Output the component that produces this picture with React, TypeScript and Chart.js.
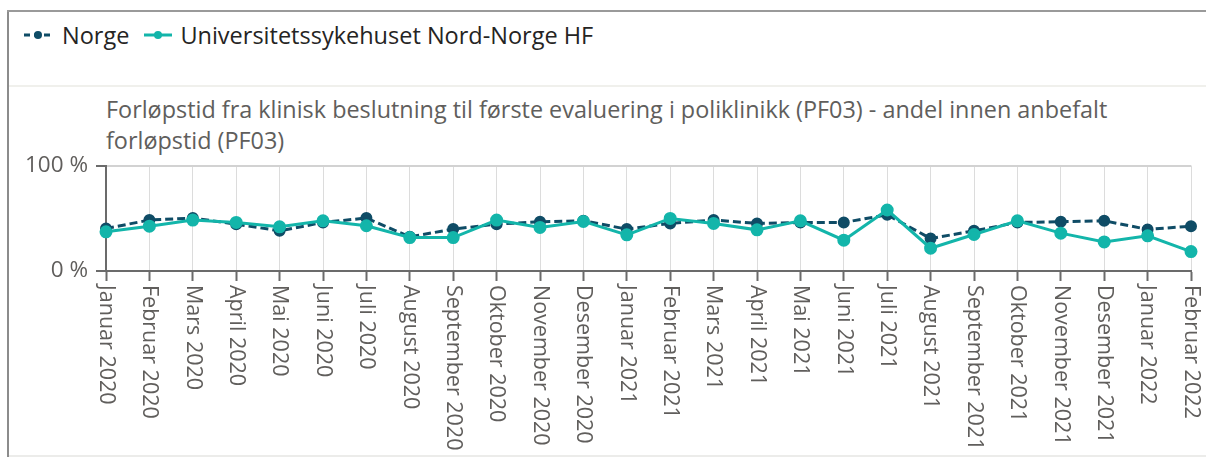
import React, { useEffect, useRef } from "react";
import { Chart, registerables } from "chart.js";

Chart.register(...registerables);

const months: string[] = [
  "Januar 2020", "Februar 2020", "Mars 2020", "April 2020", "Mai 2020", "Juni 2020",
  "Juli 2020", "August 2020", "September 2020", "Oktober 2020", "November 2020", "Desember 2020",
  "Januar 2021", "Februar 2021", "Mars 2021", "April 2021", "Mai 2021", "Juni 2021",
  "Juli 2021", "August 2021", "September 2021", "Oktober 2021", "November 2021", "Desember 2021",
  "Januar 2022", "Februar 2022",
];

const norgeValues: number[] = [
  40.3, 48.3, 50.2, 44.4, 38.1, 46.0, 50.2, 32.4, 39.7, 44.4, 46.7, 47.6,
  39.7, 45.1, 48.3, 45.1, 46.0, 46.0, 53.3, 30.8, 38.1, 46.0, 46.7, 47.6,
  39.4, 42.5,
];

const unnValues: number[] = [
  37.1, 42.5, 48.3, 46.0, 41.9, 47.6, 42.9, 31.7, 31.7, 48.3, 41.3, 47.0,
  34.3, 49.8, 45.1, 39.0, 47.6, 29.2, 57.8, 21.6, 34.6, 47.6, 35.9, 27.6,
  33.3, 18.4,
];

const yTicks: number[] = [0, 100];

const seriesNames = ["Norge", "Universitetssykehuset Nord-Norge HF"];
const titleLines = [
  "Forløpstid fra klinisk beslutning til første evaluering i poliklinikk (PF03) - andel innen anbefalt",
  "forløpstid (PF03)",
];

const DARK = "#0f4c66";
const TEAL = "#13b5aa";
const FONT = "'Segoe UI', 'Open Sans', 'Noto Sans', sans-serif";
const LABEL_COLOR = "#605e5c";

const rotatedXLabels = {
  id: "rotatedXLabels",
  afterDraw(chart: any) {
    const scale = chart.scales.x;
    const ctx = chart.ctx;
    ctx.save();
    ctx.font = `21.5px ${FONT}`;
    ctx.fillStyle = LABEL_COLOR;
    ctx.textAlign = "left";
    ctx.textBaseline = "middle";
    const y0 = scale.top + 14;
    months.forEach((label, i) => {
      const x = scale.getPixelForValue(i);
      ctx.save();
      ctx.translate(x, y0);
      ctx.rotate(Math.PI / 2);
      ctx.fillText(label, 0, 0);
      ctx.restore();
    });
    ctx.restore();
  },
};

function LegendIcon({ color, dashed }: { color: string; dashed: boolean }) {
  return (
    <svg width="30" height="12" style={{ display: "block" }}>
      <line
        x1="1" y1="6" x2="29" y2="6"
        stroke={color} strokeWidth="3"
        strokeDasharray={dashed ? "6 4" : undefined}
      />
      <circle cx="15" cy="6" r="4" fill={color} />
    </svg>
  );
}

export default function App() {
  const canvasRef = useRef<HTMLCanvasElement | null>(null);

  useEffect(() => {
    if (!canvasRef.current) return;
    const chart = new Chart(canvasRef.current, {
      type: "line",
      data: {
        labels: months,
        datasets: [
          {
            label: seriesNames[0],
            data: norgeValues,
            borderColor: DARK,
            backgroundColor: DARK,
            pointBackgroundColor: DARK,
            pointBorderColor: DARK,
            borderWidth: 3,
            borderDash: [8, 4],
            pointRadius: 4.5,
            tension: 0,
            order: 2,
          },
          {
            label: seriesNames[1],
            data: unnValues,
            borderColor: TEAL,
            backgroundColor: TEAL,
            pointBackgroundColor: TEAL,
            pointBorderColor: TEAL,
            borderWidth: 3,
            pointRadius: 5,
            tension: 0,
            order: 1,
          },
        ],
      },
      options: {
        animation: false,
        responsive: false,
        maintainAspectRatio: false,
        layout: { padding: { top: 0, right: 15, bottom: 0, left: 0 } },
        plugins: {
          legend: { display: false },
          title: { display: false },
          tooltip: { enabled: false },
        },
        scales: {
          x: {
            type: "category",
            offset: false,
            afterFit: (s: any) => { s.height = 184; },
            ticks: { display: false },
            grid: {
              display: true,
              color: "#dcdcdc",
              lineWidth: 1,
              borderDash: [3, 3],
              drawTicks: true,
              tickLength: 10,
              tickColor: "#6b6b6b",
              tickWidth: 2,
              tickBorderDash: [],
            } as any,
            border: { display: true, color: "#6b6b6b", width: 2 },
          },
          y: {
            min: 0,
            max: 100,
            afterFit: (s: any) => { s.width = 106; },
            afterBuildTicks: (s: any) => { s.ticks = yTicks.map((v) => ({ value: v })); },
            ticks: {
              padding: 8,
              color: LABEL_COLOR,
              font: { family: FONT, size: 22.5 },
              callback: (v: any) => `${v} %`,
            },
            grid: {
              color: "#d2d2d2",
              lineWidth: 2,
              drawTicks: true,
              tickLength: 10,
              tickColor: "#6b6b6b",
              tickWidth: 2,
            },
            border: { display: true, color: "#6b6b6b", width: 2 },
          },
        },
      } as any,
      plugins: [rotatedXLabels],
    });
    return () => chart.destroy();
  }, []);

  return (
    <div style={{ position: "fixed", left: 0, top: 0, width: 1206, height: 459, background: "#fff", overflow: "hidden", fontFamily: FONT }}>
      {/* frame */}
      <div style={{ position: "absolute", left: 7, top: 10, width: 2, height: 447, background: "#8c8c8c" }} />
      <div style={{ position: "absolute", left: 7, top: 10, width: 1199, height: 2, background: "#9a9a9a" }} />
      <div style={{ position: "absolute", left: 9, top: 85, width: 1197, height: 2, background: "#f0f0ec" }} />
      <div style={{ position: "absolute", left: 9, top: 455, width: 1197, height: 2, background: "#ececea" }} />
      {/* legend */}
      <div style={{ position: "absolute", left: 23, top: 19, height: 32, display: "flex", alignItems: "center", fontSize: 23.5, color: "#252423", whiteSpace: "nowrap" }}>
        <LegendIcon color={DARK} dashed={true} />
        <span style={{ marginLeft: 9 }}>{seriesNames[0]}</span>
        <span style={{ marginLeft: 14 }}><LegendIcon color={TEAL} dashed={false} /></span>
        <span style={{ marginLeft: 7 }}>{seriesNames[1]}</span>
      </div>
      {/* title */}
      <div style={{ position: "absolute", left: 106, top: 94, fontSize: 23.4, lineHeight: "31px", color: LABEL_COLOR, whiteSpace: "nowrap" }}>
        <div>{titleLines[0]}</div>
        <div>{titleLines[1]}</div>
      </div>
      <canvas ref={canvasRef} width={1206} height={311} style={{ position: "absolute", left: 0, top: 144, width: 1206, height: 311 }} />
    </div>
  );
}
